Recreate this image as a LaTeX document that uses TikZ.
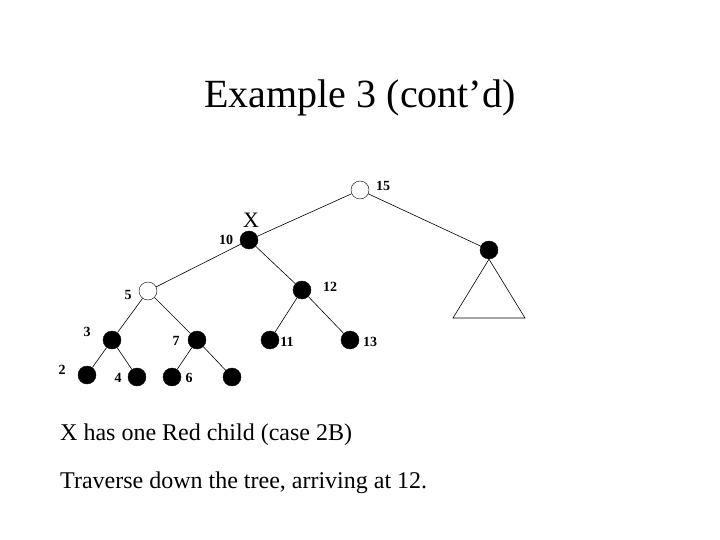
\documentclass[tikz,border=0pt]{standalone}
\usepackage{fontspec}
\setmainfont{Liberation Serif}
\begin{document}
\begin{tikzpicture}[x=1pt,y=-1pt,
 b/.style={circle,fill=black,draw=black,inner sep=0pt,minimum size=18pt},
 w/.style={circle,fill=white,draw=black,inner sep=0pt,minimum size=18pt},
 lb/.style={font=\fontsize{14}{16}\selectfont\bfseries,inner sep=0pt},
 e/.style={draw=black,line width=0.6pt}]
\useasboundingbox (0,0) rectangle (720,540);
\node[font=\fontsize{40}{46}\selectfont] (title) at (360,98) {Example 3 (cont’d)};
\node[w] (n15) at (360,190) {};
\node[b] (n10) at (249,240) {};
\node[b] (r) at (489,250) {};
\node[w] (n5) at (148,291) {};
\node[b] (n12) at (302,290) {};
\node[b] (n3) at (112,340) {};
\node[b] (n7) at (197,340) {};
\node[b] (n11) at (270,340) {};
\node[b] (n13) at (350,340) {};
\node[b] (n2) at (87,375) {};
\node[b] (n4) at (137,377) {};
\node[b] (n6) at (172,377) {};
\node[b] (n9) at (232,377) {};
\draw[e] (n15)--(n10); \draw[e] (n15)--(r);
\draw[e] (n10)--(n5); \draw[e] (n10)--(n12);
\draw[e] (n5)--(n3); \draw[e] (n5)--(n7);
\draw[e] (n12)--(n11); \draw[e] (n12)--(n13);
\draw[e] (n3)--(n2); \draw[e] (n3)--(n4);
\draw[e] (n7)--(n6); \draw[e] (n7)--(n9);
\coordinate (tl) at (453,318); \coordinate (tr) at (525,318);
\draw[e] (r.south)--(tl)--(tr)--(r.south);
\node[lb] (l15) at (383,186) {15};
\node[lb] (l10) at (226,240) {10};
\node[font=\fontsize{22}{24}\selectfont,inner sep=0pt] (lx) at (251,220) {X};
\node[lb] (l5) at (128,295) {5};
\node[lb] (l12) at (330,287) {12};
\node[lb] (l3) at (87,332) {3};
\node[lb] (l7) at (176,341) {7};
\node[lb] (l11) at (287,342) {11};
\node[lb] (l13) at (370,342) {13};
\node[lb] (l2) at (62,370) {2};
\node[lb] (l4) at (118,378) {4};
\node[lb] (l6) at (189,378) {6};
\node[lb] (l9) at (237,378) {9};
\node[anchor=west,font=\fontsize{24}{28}\selectfont,inner sep=0pt] (t1) at (60,435) {X has one Red child (case 2B)};
\node[anchor=west,font=\fontsize{24}{28}\selectfont,inner sep=0pt] (t2) at (60,483) {Traverse down the tree, arriving at 12.};
\end{tikzpicture}
\end{document}
